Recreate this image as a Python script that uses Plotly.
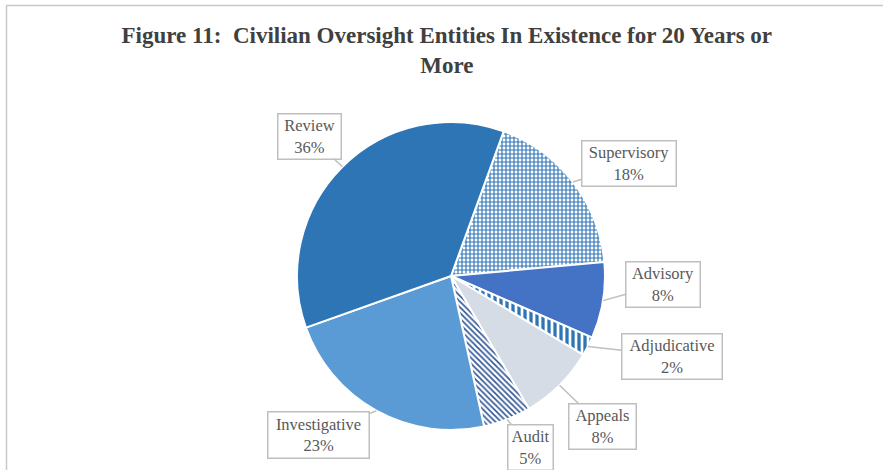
import math
import plotly.graph_objects as go

# ---- data ----
categories = ["Supervisory", "Advisory", "Adjudicative", "Appeals", "Audit", "Investigative", "Review"]
shares = [18, 8, 2, 8, 5, 23, 36]

# ---- style / layout ----
W, H = 883, 470
CX, CY, R = 451, 276, 154          # pie centre and radius in pixels
ROTATION = 20
fills = ["#FFFFFF", "#4472C4", "#FFFFFF", "#D6DCE5", "#FFFFFF", "#5B9BD5", "#2E75B6"]
pat_shapes = ["+", "", "|", "", "\\", "", ""]
pat_fg = ["#2E75B6", "#4472C4", "#2E75B6", "#D6DCE5", "#2F5597", "#5B9BD5", "#2E75B6"]
pat_size = [4, 8, 6, 8, 4, 8, 8]
pat_solid = [0.5, 0.3, 0.55, 0.3, 0.4, 0.3, 0.3]
# label box centres (pixels) and box sizes
box_cx = [629, 663, 672, 602, 530, 318, 309]
box_cy = [164, 284, 356, 426, 447, 435, 136]
box_w = [95, 75, 101, 68, 46, 102, 64]
box_h = [46, 46, 46, 46, 46, 47, 46]

font_family = "Liberation Serif, Times New Roman, serif"
text_color = "#595959"

fig = go.Figure()
fig.add_trace(go.Pie(
    labels=categories,
    values=shares,
    sort=False,
    direction="clockwise",
    rotation=ROTATION,
    textinfo="none",
    hoverinfo="skip",
    showlegend=False,
    marker=dict(
        colors=fills,
        line=dict(color="#FFFFFF", width=2),
        pattern=dict(shape=pat_shapes, fgcolor=pat_fg, bgcolor=fills, fgopacity=1,
                     size=pat_size, solidity=pat_solid, fillmode="overlay"),
    ),
    domain=dict(x=[(CX - R) / W, (CX + R) / W], y=[1 - (CY + R) / H, 1 - (CY - R) / H]),
))

# callout labels: tip at slice mid-angle on the pie edge
total = sum(shares)
annotations = []
cum = 0
for i, (cat, v) in enumerate(zip(categories, shares)):
    mid = math.radians(ROTATION + (cum + v / 2) / total * 360)
    cum += v
    tx = CX + R * math.sin(mid)
    ty = CY - R * math.cos(mid)
    pct = round(v / total * 100)
    annotations.append(dict(
        x=tx / W, y=1 - ty / H, xref="paper", yref="paper",
        text=f"{cat}<br>{pct}%",
        showarrow=True, arrowhead=0, arrowwidth=1.5, arrowcolor="#BFBFBF",
        ax=box_cx[i] - tx, ay=box_cy[i] - ty, axref="pixel", ayref="pixel",
        standoff=0, startstandoff=0,
        bordercolor="#BFBFBF", borderwidth=1.5, borderpad=3, bgcolor="#FFFFFF",
        width=box_w[i] - 8, height=box_h[i] - 8,
        font=dict(family=font_family, size=16.5, color=text_color),
        align="center", valign="middle",
    ))

fig.update_layout(
    width=W, height=H,
    margin=dict(l=0, r=0, t=0, b=0),
    paper_bgcolor="#FFFFFF", plot_bgcolor="#FFFFFF",
    title=dict(
        text="<b>Figure 11:\u00a0 Civilian Oversight Entities In Existence for 20 Years or<br>More</b>",
        x=0.506, xanchor="center", y=1 - 43 / H, yanchor="top",
        font=dict(family=font_family, size=23, color="#404040", lineposition="none"),
    ),
    annotations=annotations,
    shapes=[dict(type="rect", xref="paper", yref="paper",
                 x0=6.5 / W, x1=1.05, y0=-0.05, y1=1 - 5.5 / H,
                 line=dict(color="#C8C8C8", width=1.5), fillcolor="rgba(0,0,0,0)", layer="below")],
)

fig.write_html("out.html", config={"displayModeBar": False},
               post_script="document.body.style.margin='0';")
